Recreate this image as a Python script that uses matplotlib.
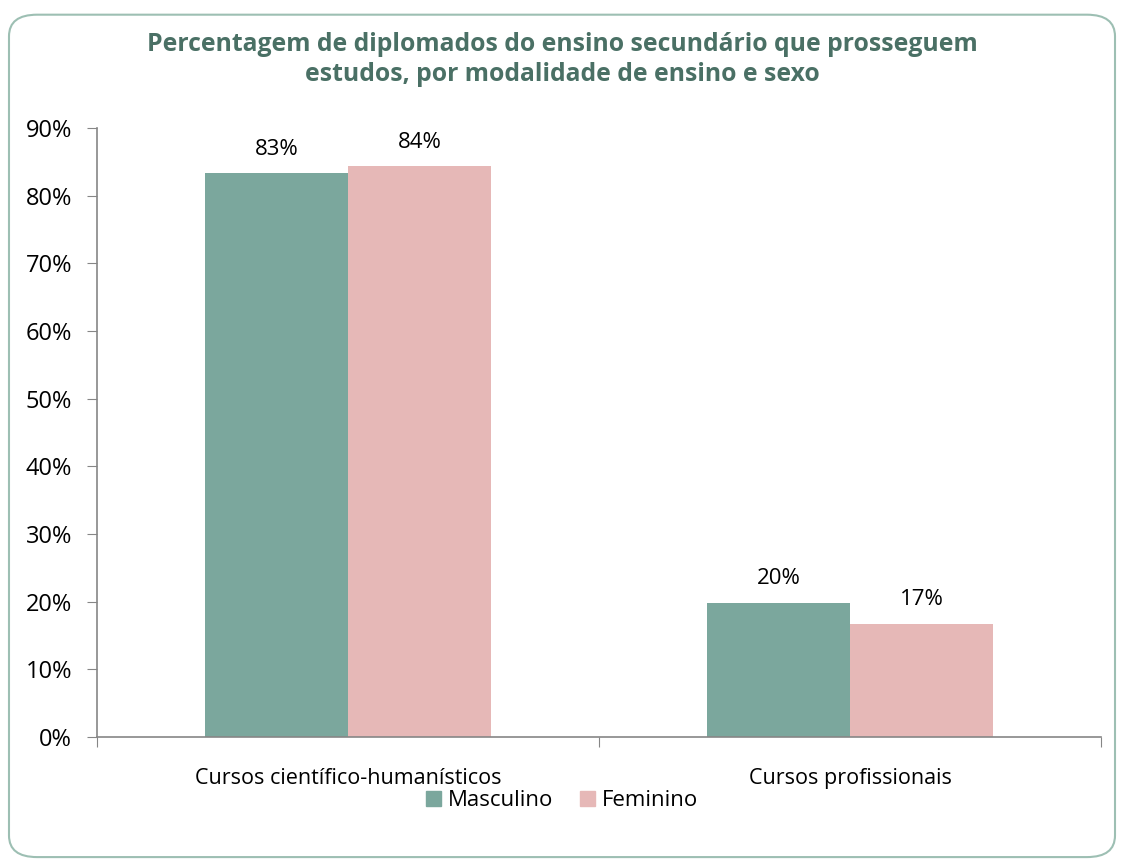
import numpy as np
import matplotlib.pyplot as plt
from matplotlib.patches import FancyBboxPatch, Patch

plt.rcParams['font.family'] = ['Open Sans', 'DejaVu Sans']

# data
categories = ["Cursos científico-humanísticos", "Cursos profissionais"]
masculino = [83.3, 19.8]
feminino = [84.3, 16.7]
labels_m = ["83%", "20%"]
labels_f = ["84%", "17%"]

c_masc = "#7BA79D"
c_fem = "#E6B8B7"
c_title = "#4A7065"
c_axis = "#868686"
fs = 15.5

fig = plt.figure(figsize=(11.24, 8.64), dpi=100)

# rounded border round the chart area
border = FancyBboxPatch((0.008, 0.008), 0.984, 0.975,
                        boxstyle="round,pad=0,rounding_size=0.025",
                        transform=fig.transFigure, facecolor="none",
                        edgecolor="#9DBFB3", linewidth=1.5, zorder=-1)
fig.patches.append(border)

ax = fig.add_axes([0.0863, 0.147, 0.8932, 0.705])
ax.set_facecolor("none")

x = np.arange(len(categories))
w = 0.285
b1 = ax.bar(x - w / 2, masculino, w, color=c_masc, label="Masculino")
b2 = ax.bar(x + w / 2, feminino, w, color=c_fem, label="Feminino")

for bar, txt in zip(b1, labels_m):
    ax.text(bar.get_x() + bar.get_width() / 2, bar.get_height() + 2.0, txt,
            ha="center", va="bottom", fontsize=16)
for bar, txt in zip(b2, labels_f):
    ax.text(bar.get_x() + bar.get_width() / 2, bar.get_height() + 2.0, txt,
            ha="center", va="bottom", fontsize=16)

ax.set_xlim(-0.5, 1.5)
ax.set_ylim(0, 90)
ax.set_yticks(np.arange(0, 91, 10))
ax.set_yticklabels([f"{v}%" for v in range(0, 91, 10)], fontsize=17)
ax.set_xticks([-0.5, 0.5, 1.5])
ax.set_xticklabels([])
ax.set_xticks(x, minor=True)
ax.set_xticklabels(categories, minor=True, fontsize=fs)
ax.tick_params(axis="x", which="minor", length=0, pad=22)
ax.tick_params(axis="x", which="major", length=7, color=c_axis, direction="out")
ax.tick_params(axis="y", length=7, color=c_axis, pad=11)

for s in ["top", "right"]:
    ax.spines[s].set_visible(False)
ax.spines["left"].set_color(c_axis)
ax.spines["bottom"].set_color(c_axis)
ax.spines["left"].set_linewidth(1.2)
ax.spines["bottom"].set_linewidth(1.2)

fig.text(0.5, 0.931, "Percentagem de diplomados do ensino secundário que prosseguem\n"
         "estudos, por modalidade de ensino e sexo",
         ha="center", va="center", fontsize=17.8, fontweight="bold",
         color=c_title, linespacing=1.25)

handles = [Patch(color=c_masc, label="Masculino"), Patch(color=c_fem, label="Feminino")]
fig.legend(handles=handles, loc="center", bbox_to_anchor=(0.5, 0.073), ncol=2,
           frameon=False, fontsize=16, handlelength=0.7, handleheight=0.7,
           handletextpad=0.3, columnspacing=1.2)

fig.savefig("out.png", dpi=100)
